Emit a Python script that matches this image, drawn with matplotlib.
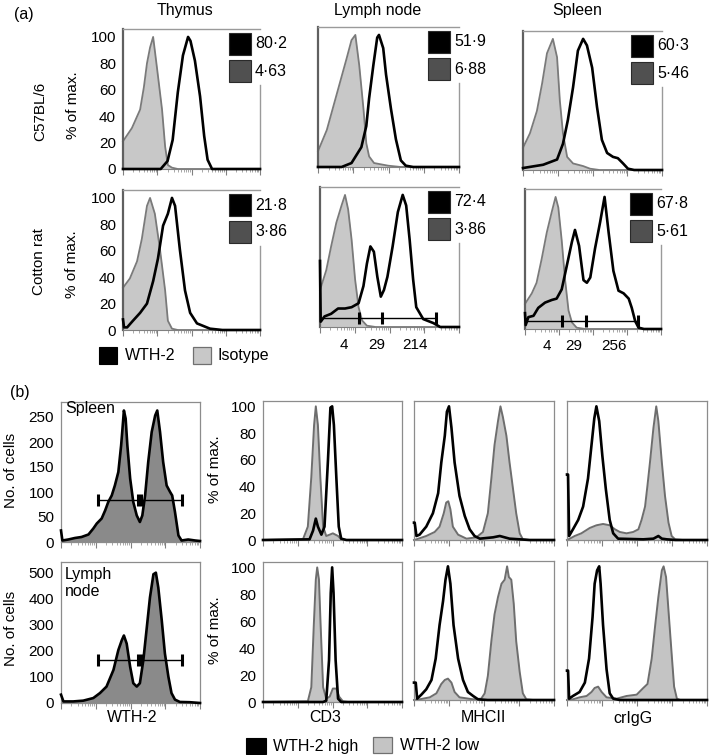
import numpy as np
import matplotlib
matplotlib.use('Agg')
import matplotlib.pyplot as plt
from matplotlib.patches import Rectangle
from matplotlib.transforms import blended_transform_factory

plt.rcParams['font.family'] = ['Liberation Sans', 'DejaVu Sans']

W, H = 709, 755

# ======================= DATA =======================
# x = position in log10 decades of fluorescence (axis spans 4 decades), y = % of max. or counts
TISSUES_A = ["Thymus", "Lymph node", "Spleen"]
STRAINS_A = ["C57BL/6", "Cotton rat"]
PCT_WTH2 = [["80·2", "51·9", "60·3"], ["21·8", "72·4", "67·8"]]
PCT_ISO = [["4·63", "6·88", "5·46"], ["3·86", "3·86", "5·61"]]
LEGEND_A = ["WTH-2", "Isotype"]

# (a) C57BL/6 row
A_THY_B6_ISO = [(0, 21), (0.26, 31), (0.5, 45), (0.61, 62), (0.7, 80), (0.79, 92), (0.88, 100), (0.99, 77),
                (1.14, 45), (1.23, 17), (1.31, 3), (1.43, 1), (1.6, 0), (4, 0)]
A_THY_B6_WTH = [(0, 0), (1.1, 0), (1.3, 6), (1.45, 22), (1.6, 58), (1.75, 86), (1.9, 100), (1.97, 97),
                (2.1, 82), (2.25, 55), (2.37, 25), (2.47, 7), (2.6, 0), (4, 0)]
A_LN_B6_ISO = [(0, 12), (0.25, 28), (0.53, 55), (0.81, 82), (0.95, 96), (1.06, 100), (1.17, 77), (1.29, 44),
               (1.37, 18), (1.45, 8), (1.59, 3), (1.99, 1), (2.35, 0), (4, 0)]
A_LN_B6_WTH = [(0, 0), (0.67, 0), (0.95, 3), (1.23, 15), (1.37, 31), (1.45, 52), (1.57, 77), (1.68, 98),
               (1.73, 100), (1.85, 90), (1.93, 70), (2.07, 44), (2.21, 21), (2.35, 5), (2.49, 1), (2.7, 0), (4, 0)]
A_SPL_B6_ISO = [(0, 17), (0.2, 28), (0.4, 45), (0.55, 66), (0.69, 89), (0.86, 100), (0.98, 86), (1.06, 53),
                (1.15, 28), (1.27, 10), (1.44, 5), (1.73, 3), (1.93, 1), (2.2, 0), (4, 0)]
A_SPL_B6_WTH = [(0, 1.5), (0.58, 4), (0.98, 8), (1.15, 20), (1.29, 38), (1.44, 63), (1.58, 91), (1.73, 100),
                (1.84, 95), (1.99, 78), (2.13, 48), (2.27, 23), (2.42, 13), (2.59, 10), (2.73, 9), (2.88, 5),
                (3.02, 1), (3.2, 0), (4, 0)]
# (a) Cotton rat row
A_THY_CR_ISO = [(0, 32), (0.2, 39), (0.41, 52), (0.55, 69), (0.7, 94), (0.79, 100), (0.93, 88), (1.08, 61),
                (1.23, 30), (1.31, 7), (1.43, 1), (1.6, 0), (4, 0)]
A_THY_CR_WTH = [(0, 8), (0.03, 2), (0.12, 2), (0.29, 7), (0.5, 13), (0.7, 20), (0.88, 37), (1.02, 54),
                (1.17, 79), (1.31, 88), (1.43, 100), (1.52, 94), (1.66, 61), (1.81, 30), (1.96, 13),
                (2.16, 5), (2.54, 1), (2.9, 0), (4, 0)]
A_LN_CR_ISO = [(0, 28), (0.18, 43), (0.32, 61), (0.47, 79), (0.62, 92), (0.72, 100), (0.81, 89), (0.91, 66),
               (1.01, 36), (1.11, 15), (1.21, 5), (1.35, 1), (1.6, 0), (4, 0)]
A_LN_CR_WTH = [(0, 50), (0.02, 4), (0.13, 8), (0.32, 10), (0.52, 14), (0.72, 14), (0.91, 15), (1.11, 18),
               (1.25, 31), (1.35, 48), (1.45, 61), (1.55, 57), (1.65, 38), (1.75, 23), (1.84, 28), (1.94, 38),
               (2.09, 61), (2.24, 87), (2.38, 100), (2.48, 92), (2.58, 66), (2.68, 36), (2.77, 15), (2.97, 6),
               (3.26, 3), (3.46, 0), (4, 0)]
A_SPL_CR_ISO = [(0, 19), (0.2, 27), (0.34, 35), (0.49, 53), (0.64, 73), (0.79, 89), (0.9, 100), (0.98, 92),
                (1.08, 67), (1.18, 37), (1.28, 14), (1.38, 5), (1.52, 1), (1.77, 0), (4, 0)]
A_SPL_CR_WTH = [(0, 12), (0.02, 3), (0.1, 9), (0.25, 10), (0.39, 16), (0.59, 20), (0.79, 22), (0.93, 23),
                (1.08, 30), (1.23, 48), (1.38, 66), (1.47, 75), (1.59, 63), (1.72, 37), (1.82, 35), (1.92, 39),
                (2.06, 61), (2.21, 81), (2.34, 100), (2.46, 73), (2.6, 44), (2.75, 29), (2.9, 27), (3.05, 23),
                (3.14, 16), (3.24, 6), (3.34, 1), (3.5, 0), (4, 0)]
# gates (edges, level) and MFI labels for cotton rat LN / spleen
A_GATE_LN = [0.0, 1.11, 1.79, 3.34]
A_GATE_LN_LEVEL = 7
A_GATE_SPL = [0.0, 1.1, 1.8, 3.32]
A_GATE_SPL_LEVEL = 6
A_MFI_LN = ["4", "29", "214"]
A_MFI_LN_POS = [0.7, 1.62, 2.72]
A_MFI_SPL = ["4", "29", "256"]
A_MFI_SPL_POS = [0.65, 1.44, 2.62]

# (b) WTH-2 count histograms
B_SPL_COUNT = [(0, 23), (0.04, 3), (0.21, 5), (0.4, 8), (0.59, 10), (0.79, 15), (0.93, 27), (1.03, 37),
               (1.17, 47), (1.27, 63), (1.36, 80), (1.46, 93), (1.55, 113), (1.65, 140), (1.73, 193),
               (1.77, 227), (1.81, 263), (1.86, 247), (1.91, 193), (1.99, 127), (2.08, 80), (2.18, 53),
               (2.27, 40), (2.34, 53), (2.42, 93), (2.51, 160), (2.61, 220), (2.71, 253), (2.77, 263),
               (2.85, 220), (2.94, 160), (3.04, 113), (3.14, 100), (3.2, 93), (3.28, 60), (3.38, 13),
               (3.47, 3), (3.66, 5), (3.86, 3), (4.0, 2)]
B_LN_COUNT = [(0, 32), (0.07, 6), (0.35, 6), (0.64, 9), (0.93, 19), (1.12, 38), (1.31, 63), (1.51, 127),
              (1.65, 203), (1.75, 241), (1.81, 259), (1.89, 228), (1.99, 139), (2.08, 76), (2.18, 63),
              (2.27, 76), (2.37, 165), (2.47, 291), (2.56, 405), (2.66, 494), (2.73, 500), (2.8, 443),
              (2.9, 316), (2.99, 190), (3.09, 101), (3.18, 38), (3.28, 13), (3.42, 4), (3.71, 3), (4.0, 0)]
B_GATES = [(1.07, 2.23), (2.3, 3.47)]
B_GATE_LEVEL_SPL = 85
B_GATE_LEVEL_LN = 165
B_SPL_TICKS = [0, 50, 100, 150, 200, 250]
B_LN_TICKS = [0, 100, 200, 300, 400, 500]
PCT_TICKS = [0, 20, 40, 60, 80, 100]
B_MARKERS = ["WTH-2", "CD3", "MHCII", "crIgG"]
LEGEND_B = ["WTH-2 high", "WTH-2 low"]

# (b) overlays, row 1 (spleen)
B_CD3_HI_1 = [(0, 0), (1.34, 0.5), (1.44, 7), (1.52, 16), (1.58, 10), (1.68, 4), (1.77, 10), (1.87, 60),
              (1.94, 99), (1.99, 100), (2.04, 86), (2.11, 47), (2.18, 10), (2.25, 1), (2.4, 0), (4, 0)]
B_CD3_LO_1 = [(0, 0), (1.15, 0.5), (1.29, 10), (1.39, 47), (1.47, 86), (1.52, 100), (1.58, 86), (1.65, 47),
              (1.73, 10), (1.82, 3), (1.92, 4), (2.01, 5), (2.16, 3), (2.25, 0.5), (2.4, 0), (4, 0)]
B_MHC_HI_1 = [(0, 13), (0.02, 13), (0.07, 3), (0.16, 4), (0.35, 10), (0.54, 20), (0.69, 35), (0.78, 58),
              (0.88, 78), (0.94, 96), (1.0, 100), (1.07, 84), (1.16, 58), (1.3, 33), (1.45, 18), (1.59, 8),
              (1.73, 3), (1.88, 1), (2.26, 2), (2.45, 3), (2.73, 1), (3.02, 0.5), (3.3, 0), (4, 0)]
B_MHC_LO_1 = [(0, 0), (0.07, 0.5), (0.35, 3), (0.59, 6), (0.73, 10), (0.85, 20), (0.92, 28), (0.98, 29),
              (1.04, 23), (1.11, 10), (1.26, 4), (1.5, 1), (1.78, 2), (1.97, 6), (2.11, 20), (2.21, 46),
              (2.3, 71), (2.4, 89), (2.47, 100), (2.54, 92), (2.64, 78), (2.73, 58), (2.83, 38), (2.92, 20),
              (3.02, 5), (3.11, 0.5), (3.3, 0), (4, 0)]
B_IGG_HI_1 = [(0, 49), (0.03, 49), (0.06, 3), (0.17, 8), (0.32, 15), (0.46, 25), (0.6, 46), (0.7, 71),
              (0.78, 91), (0.84, 100), (0.92, 89), (1.01, 63), (1.11, 38), (1.22, 15), (1.32, 5), (1.46, 1),
              (2.18, 0.5), (2.47, 1), (2.61, 3), (2.71, 1), (2.85, 0.5), (3.1, 0), (4, 0)]
B_IGG_LO_1 = [(0, 0), (0.08, 1), (0.22, 3), (0.41, 5), (0.65, 9), (0.84, 11), (1.03, 12), (1.22, 11),
              (1.37, 8), (1.51, 6), (1.7, 5), (1.89, 6), (2.04, 8), (2.13, 15), (2.23, 25), (2.3, 41),
              (2.37, 58), (2.47, 84), (2.55, 100), (2.61, 89), (2.71, 58), (2.8, 33), (2.9, 13), (2.99, 3),
              (3.09, 0.5), (3.3, 0), (4, 0)]
# (b) overlays, row 2 (lymph node)
B_CD3_HI_2 = [(0, 0), (1.73, 0), (1.82, 1), (1.9, 31), (1.95, 81), (1.99, 100), (2.03, 81), (2.09, 31),
              (2.16, 2.5), (2.25, 0), (4, 0)]
B_CD3_LO_2 = [(0, 0), (1.29, 0.5), (1.39, 11), (1.46, 56), (1.52, 91), (1.56, 100), (1.61, 91), (1.66, 56),
              (1.73, 11), (1.82, 2.5), (1.92, 4), (2.01, 10), (2.11, 10), (2.19, 4), (2.3, 0.5), (2.45, 0),
              (4, 0)]
B_MHC_HI_2 = [(0, 13), (0.05, 13), (0.09, 1), (0.21, 4), (0.35, 8), (0.5, 15), (0.62, 31), (0.73, 56),
              (0.83, 74), (0.9, 90), (0.97, 100), (1.04, 87), (1.13, 56), (1.26, 31), (1.4, 15), (1.54, 6),
              (1.69, 3), (1.83, 0.5), (2.1, 0), (4, 0)]
B_MHC_LO_2 = [(0, 0), (0.16, 0.5), (0.45, 2), (0.64, 5), (0.78, 12), (0.88, 15), (0.97, 16), (1.07, 13),
              (1.16, 6), (1.3, 2), (1.69, 0.5), (1.92, 1), (2.02, 5), (2.11, 18), (2.21, 44), (2.3, 64),
              (2.4, 77), (2.5, 87), (2.59, 90), (2.66, 100), (2.71, 92), (2.78, 90), (2.85, 72), (2.92, 44),
              (3.02, 21), (3.11, 5), (3.21, 0.5), (3.4, 0), (4, 0)]
B_IGG_HI_2 = [(0, 22), (0.03, 22), (0.06, 1), (0.17, 3), (0.36, 6), (0.51, 13), (0.63, 31), (0.73, 62),
              (0.79, 87), (0.86, 97), (0.92, 100), (0.96, 87), (1.03, 56), (1.13, 23), (1.22, 5), (1.32, 1),
              (1.51, 0), (4, 0)]
B_IGG_LO_2 = [(0, 0), (0.17, 0.5), (0.36, 2), (0.56, 3), (0.7, 6), (0.79, 9), (0.89, 10), (0.99, 6),
              (1.13, 2), (1.42, 1), (1.7, 3), (1.99, 4), (2.18, 9), (2.3, 12), (2.42, 31), (2.52, 56),
              (2.61, 77), (2.71, 97), (2.76, 100), (2.83, 92), (2.93, 56), (3.0, 31), (3.06, 10), (3.14, 1),
              (3.23, 0), (4, 0)]

# ======================= FIGURE =======================
fig = plt.figure(figsize=(W / 100, H / 100), dpi=100)
FS = 11

BLACK_LW = 1.9
ISO_FILL, ISO_EDGE = '#c8c8c8', '#7a7a7a'
LOW_FILL, LOW_EDGE = '#c4c4c4', '#6e6e6e'
CNT_FILL = '#8a8a8a'


def px_axes(box):
    l, t, r, b = box
    return fig.add_axes([l / W, 1 - b / H, (r - l) / W, (b - t) / H])


def ftext(x, y, s, **kw):
    kw.setdefault('fontsize', FS)
    return fig.text(x / W, 1 - y / H, s, **kw)


def frect(x, y, w, h, **kw):
    fig.patches.append(Rectangle((x / W, 1 - (y + h) / H), w / W, h / H,
                                 transform=fig.transFigure, figure=fig, **kw))


def log_xaxis(ax):
    ax.set_xlim(0, 4)
    majors = [0, 1, 2, 3, 4]
    minors = [d + np.log10(k) for d in range(4) for k in range(2, 10)]
    ax.set_xticks(majors)
    ax.set_xticks(minors, minor=True)
    ax.set_xticklabels([])
    ax.tick_params(axis='x', which='major', length=4, width=0.8, color='#808080', direction='out')
    ax.tick_params(axis='x', which='minor', length=2.2, width=0.6, color='#9a9a9a', direction='out')


def draw_black(ax, pairs, lw=BLACK_LW, z=4):
    a = np.array(pairs, dtype=float)
    ax.plot(a[:, 0], a[:, 1], color='black', lw=lw, solid_joinstyle='round', clip_on=False, zorder=z)


def draw_filled(ax, pairs, fill, edge, lw=1.3, z=2):
    a = np.array(pairs, dtype=float)
    ax.fill_between(a[:, 0], 0, a[:, 1], color=fill, lw=0, zorder=z)
    ax.plot(a[:, 0], a[:, 1], color=edge, lw=lw, solid_joinstyle='round', clip_on=False, zorder=z + 0.5)


# ---------------- panel (a) ----------------
A_BOXES = [[(123, 29, 260, 169), (318, 27, 459, 167), (523, 31, 662, 170)],
           [(123, 190, 260, 330), (320, 187, 459, 327), (525, 189, 661, 329)]]
A_DATA = [[(A_THY_B6_ISO, A_THY_B6_WTH), (A_LN_B6_ISO, A_LN_B6_WTH), (A_SPL_B6_ISO, A_SPL_B6_WTH)],
          [(A_THY_CR_ISO, A_THY_CR_WTH), (A_LN_CR_ISO, A_LN_CR_WTH), (A_SPL_CR_ISO, A_SPL_CR_WTH)]]
A_YMAX = 106

for r in range(2):
    for c in range(3):
        box = A_BOXES[r][c]
        ax = px_axes(box)
        iso, wth = A_DATA[r][c]
        draw_filled(ax, iso, ISO_FILL, ISO_EDGE)
        draw_black(ax, wth)
        log_xaxis(ax)
        ax.set_ylim(0, A_YMAX)
        ax.set_yticks(PCT_TICKS)
        if c == 0:
            ax.set_yticklabels([str(v) for v in PCT_TICKS], fontsize=FS)
        else:
            ax.set_yticklabels([])
        ax.tick_params(axis='y', length=0, pad=5)
        ax.spines['left'].set_color('#606060')
        ax.spines['left'].set_linewidth(1.6)
        ax.spines['bottom'].set_color('#808080')
        for s in ('top', 'right'):
            ax.spines[s].set_color('#9a9a9a')
            ax.spines[s].set_linewidth(1.0)
        l, t, rr, b = box
        frac_vis = (b - (t + 56)) / (b - t)
        ax.spines['right'].set_bounds(0, frac_vis * A_YMAX)
        # percentage legend
        sq = 22
        x0 = rr - 31
        for k, (txt, col) in enumerate([(PCT_WTH2[r][c], 'black'), (PCT_ISO[r][c], '#505050')]):
            y0 = t + 4 + k * 27
            frect(x0, y0, sq, sq, facecolor=col, edgecolor='#2a2a2a', lw=0.8)
            ftext(x0 + sq + 4, y0 + sq / 2, txt, ha='left', va='center', fontsize=11.5)
        # gates for cotton rat LN / spleen
        if r == 1 and c > 0:
            edges = A_GATE_LN if c == 1 else A_GATE_SPL
            lvl = A_GATE_LN_LEVEL if c == 1 else A_GATE_SPL_LEVEL
            ax.plot([edges[0], edges[-1]], [lvl, lvl], color='black', lw=1.0, zorder=5)
            ax.plot(edges[1:], [lvl] * (len(edges) - 1), '|', color='black', ms=9, mew=2.2, zorder=5)
            labs = A_MFI_LN if c == 1 else A_MFI_SPL
            pos = A_MFI_LN_POS if c == 1 else A_MFI_SPL_POS
            tr = blended_transform_factory(ax.transData, ax.transAxes)
            for p, s in zip(pos, labs):
                ax.text(p, -0.125, s, transform=tr, ha='center', va='center', fontsize=FS)

# (a) titles / labels
ftext(24, 15, "(a)", ha='center', va='center', fontsize=11.5)
for x, s in zip([185, 378, 577], TISSUES_A):
    ftext(x, 11, s, ha='center', va='center', fontsize=11.5)
ftext(40, 111, STRAINS_A[0], rotation=90, ha='center', va='center')
ftext(39, 262, STRAINS_A[1], rotation=90, ha='center', va='center')
ftext(73, 105, "% of max.", rotation=90, ha='center', va='center')
ftext(72, 264, "% of max.", rotation=90, ha='center', va='center')
# (a) legend
frect(99, 347, 18, 17, facecolor='black', edgecolor='black', lw=0.8)
ftext(125, 355.5, LEGEND_A[0], ha='left', va='center', fontsize=11.5)
frect(193, 347, 18, 17, facecolor=ISO_FILL, edgecolor='#707070', lw=0.9)
ftext(217, 355.5, LEGEND_A[1], ha='left', va='center', fontsize=11.5)

# ---------------- panel (b) ----------------
def box_spines(ax):
    for s in ax.spines.values():
        s.set_color('#8c8c8c')
        s.set_linewidth(0.9)


COUNT_BOXES = [(61, 402, 200, 542), (61, 562, 200, 703)]
COUNT_DATA = [B_SPL_COUNT, B_LN_COUNT]
COUNT_YLIM = [280, 541]
COUNT_TICKS = [B_SPL_TICKS, B_LN_TICKS]
GATE_LEVELS = [B_GATE_LEVEL_SPL, B_GATE_LEVEL_LN]
for i in range(2):
    ax = px_axes(COUNT_BOXES[i])
    a = np.array(COUNT_DATA[i], dtype=float)
    ax.fill_between(a[:, 0], 0, a[:, 1], color=CNT_FILL, lw=0, zorder=2)
    ax.plot(a[:, 0], a[:, 1], color='black', lw=BLACK_LW, solid_joinstyle='round', clip_on=False, zorder=3)
    lvl = GATE_LEVELS[i]
    for g0, g1 in B_GATES:
        ax.plot([g0, g1], [lvl, lvl], color='black', lw=1.0, zorder=5)
        ax.plot([g0, g1], [lvl, lvl], '|', color='black', ms=9, mew=2.2, zorder=5)
    log_xaxis(ax)
    ax.set_ylim(0, COUNT_YLIM[i])
    ax.set_yticks(COUNT_TICKS[i])
    ax.set_yticklabels([str(v) for v in COUNT_TICKS[i]], fontsize=FS)
    ax.tick_params(axis='y', length=0, pad=5)
    box_spines(ax)

OV_BOXES = [[(263, 401, 402, 540), (414, 401, 554, 540), (567, 401, 707, 540)],
            [(263, 562, 402, 702), (414, 561, 554, 700), (567, 561, 707, 700)]]
OV_DATA = [[(B_CD3_LO_1, B_CD3_HI_1), (B_MHC_LO_1, B_MHC_HI_1), (B_IGG_LO_1, B_IGG_HI_1)],
           [(B_CD3_LO_2, B_CD3_HI_2), (B_MHC_LO_2, B_MHC_HI_2), (B_IGG_LO_2, B_IGG_HI_2)]]
for r in range(2):
    for c in range(3):
        ax = px_axes(OV_BOXES[r][c])
        lo, hi = OV_DATA[r][c]
        draw_filled(ax, lo, LOW_FILL, LOW_EDGE, lw=1.4)
        draw_black(ax, hi)
        log_xaxis(ax)
        ax.set_ylim(0, 104)
        ax.set_yticks(PCT_TICKS)
        if c == 0:
            ax.set_yticklabels([str(v) for v in PCT_TICKS], fontsize=FS)
        else:
            ax.set_yticklabels([])
        ax.tick_params(axis='y', length=0, pad=5)
        box_spines(ax)

ftext(20, 393, "(b)", ha='center', va='center', fontsize=11.5)
ftext(65, 409, "Spleen", ha='left', va='center', fontsize=11.5)
ftext(65, 574, "Lymph", ha='left', va='center', fontsize=11.5)
ftext(65, 591, "node", ha='left', va='center', fontsize=11.5)
ftext(11, 470, "No. of cells", rotation=90, ha='center', va='center')
ftext(11, 628, "No. of cells", rotation=90, ha='center', va='center')
ftext(215, 469, "% of max.", rotation=90, ha='center', va='center')
ftext(215, 630, "% of max.", rotation=90, ha='center', va='center')
for x, s in zip([132, 325, 483, 633], B_MARKERS):
    ftext(x, 718, s, ha='center', va='center', fontsize=11.5)
# (b) legend
frect(246, 738, 20, 16, facecolor='black', edgecolor='black', lw=0.8)
ftext(273, 746, LEGEND_B[0], ha='left', va='center', fontsize=11.5)
frect(373, 737, 19, 16, facecolor=LOW_FILL, edgecolor='#707070', lw=0.9)
ftext(400, 746, LEGEND_B[1], ha='left', va='center', fontsize=11.5)

fig.savefig('out.png', dpi=100)
